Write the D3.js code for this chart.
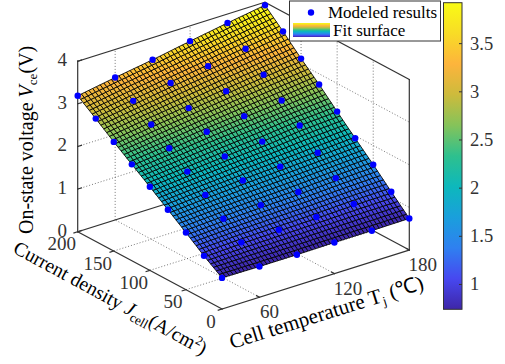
<!DOCTYPE html>
<html>
<head>
<meta charset="utf-8">
<script src="https://cdn.jsdelivr.net/npm/d3@7"></script>
<style>
    body { margin: 0; background: #fff; }
    text { font-family: "Liberation Serif", serif; }
</style>
</head>
<body>
<div id="chart"></div>
<script>
// Data
const tempValues = [30, 60, 90, 120, 150, 180];
const densityValues = [0, 25, 50, 75, 100, 125, 150, 175, 200];
const v30 = [0.73, 1.02, 1.34, 1.65, 1.96, 2.26, 2.56, 2.88, 3.19];
const v60 = [0.72, 1.06, 1.39, 1.72, 2.04, 2.36, 2.69, 3.02, 3.34];
const v90 = [0.72, 1.08, 1.43, 1.78, 2.12, 2.47, 2.80, 3.16, 3.48];
const v120 = [0.73, 1.10, 1.46, 1.83, 2.19, 2.56, 2.92, 3.28, 3.64];
const v150 = [0.73, 1.13, 1.51, 1.88, 2.29, 2.65, 3.03, 3.41, 3.79];
const v180 = [0.74, 1.14, 1.55, 1.94, 2.34, 2.75, 3.13, 3.54, 3.93];
const voltage = [v30, v60, v90, v120, v150, v180];

const tempTicks = [60, 120, 180];
const densityTicks = [0, 50, 100, 150, 200];
const voltageTicks = [0, 1, 2, 3, 4];
const barTicks = [1, 1.5, 2, 2.5, 3, 3.5];
const barLimits = [0.737, 3.92];
const parula = ["#3e26a8", "#4748f0", "#2f80f0", "#1a9fdc", "#0db8bc", "#2ec08e", "#85c35a", "#cdbb3c", "#fdb43c", "#f8dc26", "#f9fb15"];

const svg = d3.select("#chart")
    .append("svg")
    .attr("width", 505)
    .attr("height", 364);

// Oblique projection, one pixel scale per data axis
const origin = { x: 222, y: 309 };
const tempX = d3.scaleLinear().domain([30, 180]).range([0, 187.3]);
const tempY = d3.scaleLinear().domain([30, 180]).range([0, -59]);
const densX = d3.scaleLinear().domain([0, 200]).range([0, -144.3]);
const densY = d3.scaleLinear().domain([0, 200]).range([0, -77.3]);
const voltY = d3.scaleLinear().domain([0, 4]).range([0, -170.5]);

const px = (t, j) => origin.x + tempX(t) + densX(j);
const py = (t, j, v) => origin.y + tempY(t) + densY(j) + voltY(v);

const colorScale = d3.scaleSequential(d3.piecewise(d3.interpolateRgb, parula)).domain(barLimits).clamp(true);

// Back walls and floor grid
const grid = svg.append("g")
    .attr("fill", "none")
    .attr("stroke", "#555")
    .attr("stroke-width", 0.8)
    .attr("stroke-dasharray", "1 2");

function seg(g, a, b) {
    g.append("line")
        .attr("x1", px(a[0], a[1])).attr("y1", py(a[0], a[1], a[2]))
        .attr("x2", px(b[0], b[1])).attr("y2", py(b[0], b[1], b[2]));
}

[60, 120].forEach(t => {
    seg(grid, [t, 0, 0], [t, 200, 0]);
    seg(grid, [t, 200, 0], [t, 200, 4]);
});
[50, 100, 150].forEach(j => {
    seg(grid, [30, j, 0], [180, j, 0]);
    seg(grid, [180, j, 0], [180, j, 4]);
});
[1, 2, 3].forEach(v => {
    seg(grid, [30, 200, v], [180, 200, v]);
    seg(grid, [180, 200, v], [180, 0, v]);
});

// Box lines
const box = svg.append("g")
    .attr("stroke", "#333")
    .attr("stroke-width", 1.2)
    .attr("stroke-linecap", "square");

seg(box, [30, 200, 0], [30, 200, 4]);
seg(box, [30, 200, 4], [180, 200, 4]);
seg(box, [180, 200, 4], [180, 0, 4]);
seg(box, [180, 0, 4], [180, 0, 0]);
seg(box, [30, 200, 0], [30, 0, 0]);
seg(box, [30, 0, 0], [180, 0, 0]);
seg(box, [30, 200, 0], [180, 200, 0]);
seg(box, [180, 200, 0], [180, 0, 0]);

// Axis ticks
tempTicks.forEach(t => seg(box, [t, 0, 0], [t, 4, 0]));
densityTicks.forEach(j => seg(box, [30, j, 0], [27, j, 0]));
voltageTicks.forEach(v => seg(box, [30, 200, v], [33, 200, v]));

// Surface: the modeled grid is drawn as a 50x50 mesh, each data cell split for display only
const meshCells = 50;
const tPos = d3.scaleLinear().domain([0, meshCells]).range([0, tempValues.length - 1]);
const jPos = d3.scaleLinear().domain([0, meshCells]).range([0, densityValues.length - 1]);

function surfaceV(a, b) {
    const i = Math.min(Math.floor(a), tempValues.length - 2);
    const k = Math.min(Math.floor(b), densityValues.length - 2);
    const low = d3.interpolateNumber(voltage[i][k], voltage[i + 1][k])(a - i);
    const high = d3.interpolateNumber(voltage[i][k + 1], voltage[i + 1][k + 1])(a - i);
    return d3.interpolateNumber(low, high)(b - k);
}

const tAt = d3.scaleLinear().domain([0, tempValues.length - 1]).range([30, 180]);
const jAt = d3.scaleLinear().domain([0, densityValues.length - 1]).range([0, 200]);

const cells = [];
d3.range(meshCells).forEach(n => {
    d3.range(meshCells).forEach(m => {
        const corners = [[n, m], [n + 1, m], [n + 1, m + 1], [n, m + 1]].map(([c, r]) => {
            const a = tPos(c), b = jPos(r);
            return { x: px(tAt(a), jAt(b)), y: py(tAt(a), jAt(b), surfaceV(a, b)), v: surfaceV(a, b) };
        });
        cells.push(corners);
    });
});

svg.append("g")
    .selectAll("path")
    .data(cells)
    .enter()
    .append("path")
    .attr("d", c => "M" + c.map(p => `${p.x},${p.y}`).join("L") + "Z")
    .attr("fill", c => colorScale(d3.mean(c, p => p.v)))
    .attr("stroke", "#000")
    .attr("stroke-width", 0.85);

// Modeled points
const points = [];
tempValues.forEach((t, i) => densityValues.forEach((j, k) => points.push({ t, j, v: voltage[i][k] })));

svg.append("g")
    .selectAll("circle")
    .data(points)
    .enter()
    .append("circle")
    .attr("cx", d => px(d.t, d.j))
    .attr("cy", d => py(d.t, d.j, d.v))
    .attr("r", 3.2)
    .attr("fill", "#0000ff");

// Tick labels
const labels = svg.append("g")
    .attr("fill", "#333")
    .style("font-size", "19px")
    .attr("text-anchor", "middle");

tempTicks.forEach(t => {
    labels.append("text")
        .attr("x", px(t, 0) + (t >= 100 ? 13.5 : 10))
        .attr("y", py(t, 0, 0) + 21)
        .text(t);
});
densityTicks.forEach(j => {
    labels.append("text")
        .attr("x", px(30, j) - (j >= 100 ? 16 : j > 0 ? 13 : 11))
        .attr("y", py(30, j, 0) + 18.5)
        .text(j);
});
voltageTicks.forEach(v => {
    labels.append("text")
        .attr("text-anchor", "end")
        .attr("x", 67)
        .attr("y", py(30, 200, v) + 5)
        .text(v);
});

// Axis titles
function axisTitle(x, y, angle, size, parts) {
    const t = svg.append("text")
        .attr("transform", `translate(${x},${y}) rotate(${angle})`)
        .attr("fill", "#000")
        .style("font-size", size + "px");
    parts.forEach(p => {
        const s = t.append("tspan").text(p.text);
        if (p.italic) s.style("font-style", "italic");
        if (p.sub) s.style("font-size", "13px").attr("dy", 4);
        if (p.sup) s.style("font-size", "13px").attr("dy", -7);
        if (p.back) s.attr("dy", p.back);
    });
}

axisTitle(33, 234, -90, 20, [
    { text: "On-state voltage " },
    { text: "V", italic: true },
    { text: "ce", sub: true },
    { text: "(V)", back: -4 }
]);
axisTitle(12, 252, 28.5, 19.6, [
    { text: "Current density " },
    { text: "J", italic: true },
    { text: "cell", sub: true },
    { text: "(A/cm", back: -4 },
    { text: "2", sup: true },
    { text: ")", back: 7 }
]);
axisTitle(232, 349, -17.3, 21, [
    { text: "Cell temperature T" },
    { text: "j", sub: true },
    { text: " (℃)", back: -4 }
]);

// Colorbar
const barScale = d3.scaleLinear().domain(barLimits).range([309.3, 2.7]);
const defs = svg.append("defs");

function addGradient(id) {
    const g = defs.append("linearGradient")
        .attr("id", id)
        .attr("x1", 0).attr("y1", 1)
        .attr("x2", 0).attr("y2", 0);
    parula.forEach((c, i) => {
        g.append("stop")
            .attr("offset", i / (parula.length - 1))
            .attr("stop-color", c);
    });
}
addGradient("parula-bar");

svg.append("rect")
    .attr("x", 443.5)
    .attr("y", 2.7)
    .attr("width", 18.5)
    .attr("height", 306.6)
    .attr("fill", "url(#parula-bar)")
    .attr("stroke", "#333")
    .attr("stroke-width", 1);

const barAxis = d3.axisRight(barScale)
    .tickValues(barTicks)
    .tickFormat(d => d)
    .tickSizeInner(-3)
    .tickSizeOuter(0)
    .tickPadding(8);

const barG = svg.append("g")
    .attr("transform", "translate(462,0)")
    .call(barAxis);
barG.select(".domain").remove();
barG.selectAll("line").attr("stroke", "#333");
barG.selectAll("text")
    .attr("fill", "#333")
    .style("font-family", '"Liberation Serif", serif')
    .style("font-size", "18.5px");

// Legend
const legend = svg.append("g");
legend.append("rect")
    .attr("x", 289.5)
    .attr("y", 1)
    .attr("width", 151)
    .attr("height", 40)
    .attr("fill", "#fff")
    .attr("stroke", "#333")
    .attr("stroke-width", 1);
legend.append("circle")
    .attr("cx", 311)
    .attr("cy", 12.5)
    .attr("r", 3.2)
    .attr("fill", "#0000ff");
legend.append("text")
    .attr("x", 328)
    .attr("y", 18)
    .style("font-size", "17px")
    .text("Modeled results");
addGradient("parula-patch");
legend.append("rect")
    .attr("x", 293)
    .attr("y", 23)
    .attr("width", 37)
    .attr("height", 14)
    .attr("fill", "url(#parula-patch)");
legend.append("text")
    .attr("x", 333)
    .attr("y", 36)
    .style("font-size", "17px")
    .text("Fit surface");
</script>
</body>
</html>
